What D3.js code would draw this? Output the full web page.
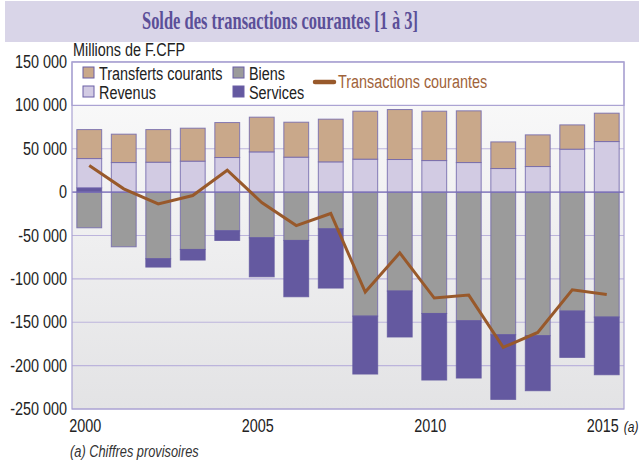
<!DOCTYPE html>
<html><head><meta charset="utf-8">
<script src="https://cdn.jsdelivr.net/npm/d3@7"></script>
<style>
body{margin:0;background:#fff;}
svg{display:block;}
.narrow{font-family:"Liberation Sans",Arial,sans-serif;}
</style></head>
<body><div id="chart"></div>
<script>
const years = [2000,2001,2002,2003,2004,2005,2006,2007,2008,2009,2010,2011,2012,2013,2014,2015];
const biens = [-41100,-63000,-76800,-66100,-44600,-52600,-55700,-42300,-142900,-114000,-139900,-148300,-164400,-165500,-137100,-144000];
const services = [5000,0,-9600,-12200,-11100,-45000,-64900,-68300,-66800,-53000,-76700,-66000,-74500,-63400,-53400,-66500];
const revenus = [33700,34100,34500,35700,39900,46400,40300,34900,38000,37600,36400,34100,27200,29500,49500,58300];
const transferts = [33400,32700,37600,38000,40300,40000,40300,49200,55300,57600,56900,59600,30700,36500,28000,32700];
const transactions = [30700,3800,-13500,-3900,25300,-12000,-38600,-24600,-115200,-70000,-122100,-118700,-179000,-161700,-112600,-118000];
const yTicks = [150000,100000,50000,0,-50000,-100000,-150000,-200000,-250000];
const xLabels = [2000,2005,2010,2015];

const W=639,H=465;
const svg=d3.select("#chart").append("svg").attr("width",W).attr("height",H);
const defs=svg.append("defs");
const grad=defs.append("linearGradient").attr("id","bg").attr("x1",0).attr("y1",0).attr("x2",0).attr("y2",1);
grad.append("stop").attr("offset","0%").attr("stop-color","#fbfbfb");
grad.append("stop").attr("offset","100%").attr("stop-color","#e3e3e5");

function condense(sel,f){
  sel.each(function(){const w=this.getComputedTextLength();d3.select(this).attr("textLength",w*f).attr("lengthAdjust","spacingAndGlyphs");});
  return sel;
}
const CF=0.8;

// Title band
svg.append("rect").attr("x",5).attr("y",1).attr("width",W-5).attr("height",41).attr("fill","#d9d5e8");
svg.append("text").attr("x",280).attr("y",29).attr("text-anchor","middle")
  .attr("font-family","'Liberation Serif','Times New Roman',serif").attr("font-weight","bold")
  .attr("font-size",25).attr("fill","#5b4f98").attr("textLength",276).attr("lengthAdjust","spacingAndGlyphs")
  .text("Solde des transactions courantes [1 à 3]");

const L=72,R=624,T=62,B=409;
const y=d3.scaleLinear().domain([-250000,150000]).range([B,T]);
const x=d3.scaleBand().domain(years).range([L,R]).paddingInner(0.28).paddingOuter(0.14);

// plot background
svg.append("rect").attr("x",L).attr("y",T).attr("width",R-L).attr("height",B-T).attr("fill","url(#bg)");
// gridlines
svg.append("g").selectAll("line").data(yTicks).join("line")
  .attr("x1",L).attr("x2",R).attr("y1",d=>y(d)).attr("y2",d=>y(d))
  .attr("stroke","#bcb4dc").attr("stroke-width",1.2);

// stacked bars
const keys=["biens","services","revenus","transferts"];
const colors={biens:"#9b9b9b",services:"#6459a0",revenus:"#d2cbe3",transferts:"#c9a88a"};
const rows=years.map((yr,i)=>({year:yr,biens:biens[i],services:services[i],revenus:revenus[i],transferts:transferts[i]}));
const stack=d3.stack().keys(keys).offset(d3.stackOffsetDiverging)(rows);
const gb=svg.append("g");
stack.forEach(s=>{
  gb.append("g").selectAll("rect").data(s.filter(d=>d[1]!==d[0])).join("rect")
    .attr("x",d=>x(d.data.year)).attr("width",x.bandwidth())
    .attr("y",d=>y(Math.max(d[0],d[1]))).attr("height",d=>Math.abs(y(d[0])-y(d[1])))
    .attr("fill",colors[s.key])
    .attr("stroke",s.key==="services"?"#6459a0":"#7368ad").attr("stroke-width",1).attr("stroke-opacity",0.85);
});
// zero line
svg.append("line").attr("x1",L).attr("x2",R).attr("y1",y(0)).attr("y2",y(0)).attr("stroke","#7d72b8").attr("stroke-width",1.2);

// line
const line=d3.line().x((d,i)=>x(years[i])+x.bandwidth()/2).y(d=>y(d));
svg.append("path").attr("d",line(transactions)).attr("fill","none").attr("stroke","#98592b").attr("stroke-width",3).attr("stroke-linejoin","miter");

// legend box
svg.append("rect").attr("x",L).attr("y",y(150000)).attr("width",R-L).attr("height",y(100000)-y(150000))
  .attr("fill","#ffffff").attr("stroke","#aaa2d2").attr("stroke-width",1.2);
const legItems=[
  {k:"transferts",label:"Transferts courants",lx:L+10,ly:73},
  {k:"revenus",label:"Revenus",lx:L+10,ly:92},
  {k:"biens",label:"Biens",lx:L+160,ly:73},
  {k:"services",label:"Services",lx:L+160,ly:92}];
const lg=svg.append("g").attr("class","narrow");
legItems.forEach(it=>{
  lg.append("rect").attr("x",it.lx+1).attr("y",it.ly-6).attr("width",11).attr("height",11)
    .attr("fill",colors[it.k]).attr("stroke","#6a5fa6").attr("stroke-width",1);
  condense(lg.append("text").attr("x",it.lx+17).attr("y",it.ly+6.5).attr("font-size",18).attr("fill","#222").text(it.label),CF);
});
lg.append("line").attr("x1",L+243).attr("x2",L+262).attr("y1",82).attr("y2",82)
  .attr("stroke","#98592b").attr("stroke-width",4.5).attr("stroke-linecap","round");
condense(lg.append("text").attr("x",L+266).attr("y",88).attr("font-size",18).attr("fill","#a0633a").text("Transactions courantes"),CF);

// plot border
svg.append("rect").attr("x",L).attr("y",T).attr("width",R-L).attr("height",B-T).attr("fill","none").attr("stroke","#aaa2d2").attr("stroke-width",1.2);

// y axis labels
const fmt=d=>d3.format(",")(d).replace(/,/g," ").replace("−","-");
condense(svg.append("g").attr("class","narrow").selectAll("text").data(yTicks).join("text")
  .attr("x",L-5).attr("y",d=>y(d)+6).attr("text-anchor","end").attr("font-size",18).attr("fill","#222")
  .text(d=>fmt(d)),CF);
condense(svg.append("text").attr("class","narrow").attr("x",L+1).attr("y",56).attr("font-size",18).attr("fill","#222").text("Millions de F.CFP"),CF);

// x labels
const xl=svg.append("g").attr("class","narrow");
xLabels.forEach(yr=>{
  const cx=x(yr)+x.bandwidth()/2-4;
  condense(xl.append("text").attr("x",cx).attr("y",432).attr("text-anchor","middle").attr("font-size",18).attr("fill","#222").text(yr),CF);
  if(yr===2015){
    condense(xl.append("text").attr("x",cx+21).attr("y",432).attr("font-size",15).attr("font-style","italic").attr("fill","#222").text("(a)"),CF);
  }
});
condense(svg.append("text").attr("class","narrow").attr("x",70).attr("y",457).attr("font-size",16).attr("font-style","italic").attr("fill","#333").text("(a) Chiffres provisoires"),CF);
</script></body></html>
